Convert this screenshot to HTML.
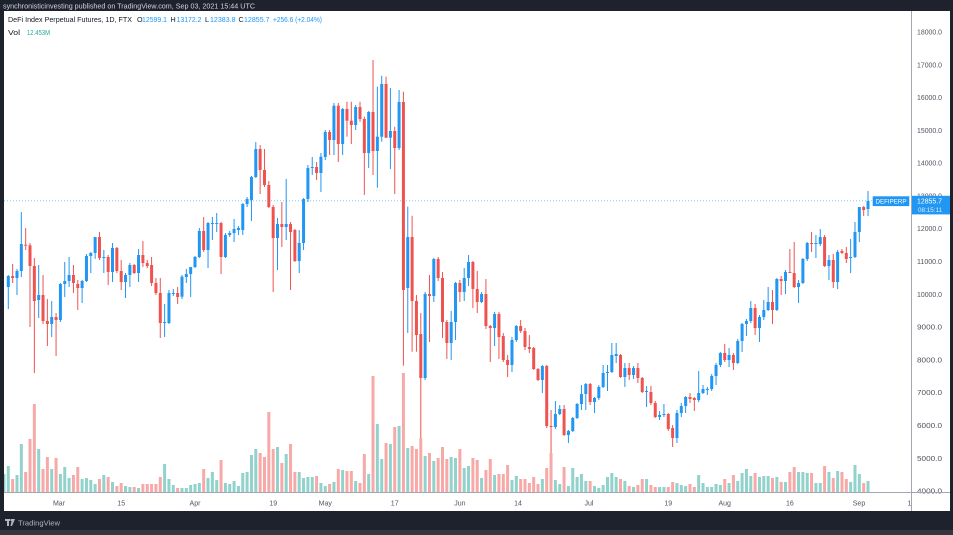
<!DOCTYPE html>
<html><head><meta charset="utf-8">
<style>
html,body{margin:0;padding:0;background:#1e222d;}
svg{display:block;}
text{font-family:"Liberation Sans",Arial,sans-serif;}
</style></head>
<body>
<svg id="s" width="953" height="535" viewBox="0 0 953 535" xmlns="http://www.w3.org/2000/svg">
<defs>
<clipPath id="cp"><rect x="4" y="11" width="907" height="481"/></clipPath>
<clipPath id="tc"><rect x="4" y="493" width="907" height="18"/></clipPath>
</defs>
<rect x="0" y="0" width="953" height="535" fill="#1e222d"/>
<rect x="0" y="530" width="953" height="5" fill="#34373f"/>
<rect x="4" y="11" width="946" height="500" fill="#ffffff"/>
<text x="3" y="8.6" font-size="7.2" fill="#d1d4dc" textLength="252" lengthAdjust="spacingAndGlyphs">synchronisticinvesting published on TradingView.com, Sep 03, 2021 15:44 UTC</text>
<g id="vol" clip-path="url(#cp)"></g>
<line x1="4" y1="200.7" x2="872" y2="200.7" stroke="#2196f3" stroke-opacity="0.55" stroke-width="1" stroke-dasharray="1,2"/>
<g id="cdl" clip-path="url(#cp)"></g>
<g font-size="7.2">
<text x="8" y="21.8" fill="#131722" textLength="124" lengthAdjust="spacingAndGlyphs">DeFi Index Perpetual Futures, 1D, FTX</text>
<text x="137" y="21.8" fill="#131722">O</text><text x="142" y="21.8" fill="#2196f3" textLength="25" lengthAdjust="spacingAndGlyphs">12599.1</text>
<text x="170.5" y="21.8" fill="#131722">H</text><text x="176.5" y="21.8" fill="#2196f3" textLength="25" lengthAdjust="spacingAndGlyphs">13172.2</text>
<text x="205" y="21.8" fill="#131722">L</text><text x="210" y="21.8" fill="#2196f3" textLength="25.5" lengthAdjust="spacingAndGlyphs">12383.8</text>
<text x="238.5" y="21.8" fill="#131722">C</text><text x="244" y="21.8" fill="#2196f3" textLength="25.5" lengthAdjust="spacingAndGlyphs">12855.7</text>
<text x="273" y="21.8" fill="#2196f3" textLength="49" lengthAdjust="spacingAndGlyphs">+256.6 (+2.04%)</text>
<text x="8" y="35.2" fill="#131722" textLength="12" lengthAdjust="spacingAndGlyphs">Vol</text>
<text x="27" y="35.2" fill="#26a69a" textLength="23" lengthAdjust="spacingAndGlyphs">12.453M</text>
</g>
<g id="pax" font-size="7" fill="#50535e"></g>
<line x1="911.5" y1="11" x2="911.5" y2="511" stroke="#a3a6af" stroke-width="1"/>
<line x1="4" y1="492.5" x2="950" y2="492.5" stroke="#a3a6af" stroke-width="1"/>
<g font-size="7" fill="#50535e" text-anchor="middle" clip-path="url(#tc)">
<text x="59" y="505.5">Mar</text>
<text x="121.2" y="505.5">15</text>
<text x="195" y="505.5">Apr</text>
<text x="273.2" y="505.5">19</text>
<text x="325.3" y="505.5">May</text>
<text x="394.7" y="505.5">17</text>
<text x="459.9" y="505.5">Jun</text>
<text x="518" y="505.5">14</text>
<text x="589" y="505.5">Jul</text>
<text x="668.3" y="505.5">19</text>
<text x="724.7" y="505.5">Aug</text>
<text x="789.9" y="505.5">16</text>
<text x="859" y="505.5">Sep</text>
<text x="911.5" y="505.5">13</text>
</g>
<rect x="872.7" y="196.3" width="36.6" height="9.8" fill="#2196f3"/>
<text x="891" y="203.6" font-size="6.5" fill="#ffffff" text-anchor="middle" textLength="31" lengthAdjust="spacingAndGlyphs">DEFIPERP</text>
<rect x="912" y="195.8" width="38" height="18.6" fill="#2196f3"/>
<text x="917" y="203.6" font-size="7" fill="#ffffff" textLength="25" lengthAdjust="spacingAndGlyphs">12855.7</text>
<text x="918" y="212" font-size="6.5" fill="#ffffff" fill-opacity="0.85" textLength="24" lengthAdjust="spacingAndGlyphs">08:15:11</text>
<g fill="#b2b5be">
<rect x="5" y="519" width="5" height="2"/><rect x="7" y="519" width="2" height="7"/>
<rect x="10.5" y="519" width="2" height="2"/><polygon points="12,519 15,519 12,526 10.5,526"/>
</g>
<text x="18" y="525.3" font-size="7.5" fill="#b2b5be" textLength="42" lengthAdjust="spacingAndGlyphs">TradingView</text>
</svg>
<script>
var D=[
[276,287,275,309,1,466],[276,278,264,283,0,479],[271,278,269,295,1,475],[244,271,212,277,1,444],[244.7,245.7,228,250,0,472],
[245.3,266,243,327,0,439],[266,301,258,373,0,404],[295,300,265,318,1,449],[295,321,275,324,0,469],[321,324,299,346,0,457],
[317,324,301,337,1,469],[317,320,313,356,0,458],[284,320,283,322,1,474],[281,284,262,297,1,467],[275,281,257,287,1,478],
[275,283,265,293,0,475],[284,288,280,310,0,467],[281,288,280,303,1,479],[256,281,254,282,1,478],[253,256,252,273,1,480],
[237,253,237,259,1,484],[237,258,232,260,0,479],[257,258,250,273,1,475],[257,272,255,285,0,477],[248,272,243,282,1,482],
[248,271,247,273,0,486],[271,282,260,290,0,483],[275,282,273,298,1,486],[265,275,263,287,1,487],[265,273,264,274,0,487],
[255,273,249,282,1,488],[255,263,241,267,0,484],[263,266,260,268,0,484],[265,283,257,286,0,484],[283,293,278,295,0,484],
[293,323,278,338,0,477],[322,323,304,337,1,464],[293,323,290,324,1,479],[293,294,289,296,1,485],[293,297,287,304,0,488],
[276.7,296.7,275,299,1,488],[274,277,269,283,1,488],[267,274,267,297,1,485],[257,267,256,268,1,484],[231,257,228,258,1,483],
[231,250,217,252,0,469],[223,250,222,268,1,478],[223,224,217,240,1,472],[223,224,213,232,1,480],[223,257,222,274,0,460],
[235,257,233,258,1,483],[233,235,231,237,1,484],[229,233,219,242,1,481],[228,230,226,235,1,486],[204,230,203,235,1,473],
[199,204,197,207,1,472],[177,200,176,221,1,455],[149,177,142,178,1,449],[149,170,145,194,0,453],[170,185,149,187,0,457],
[185,207,181,208,0,412],[207,238,205,292,0,449],[224,238,218,270,1,447],[224,227,202,247,0,463],[224,227,179,240,1,454],
[224,232,222,290,0,444],[230,261,229,262,0,472],[243,261,230,273,1,472],[199,243,198,250,1,478],[168,199,165,202,1,477],
[167,168,157,175,1,477],[167,173,162,180,0,476],[156.7,173,153,192,1,483],[132,157,130,160,1,486],[132,140,130,155,0,484],
[105.7,140,103,155,1,482],[105.7,144,103,162,0,469],[109,144,108,155,1,470],[109,120.7,101.7,136.7,0,471],[120.7,125,101.7,144,0,471],
[107,125,105,130,1,481],[107,119,101.7,121.7,0,483],[119,153,116.7,195,0,454],[112,153,111,168,1,474],[112,151,60,175,0,376],
[136.7,151,86.7,187.7,1,424],[84,136.7,75.7,141.7,1,459],[84,137.7,76.7,138,0,443],[131,137.7,88,169,1,444],[131,148,126.7,194,0,427],
[102,148,90,150,1,426],[102,290,91.7,365.7,0,373],[237,288,206.7,333,1,448],[237,301,215.7,351.7,0,446],[301,335,295,351.7,0,449],
[334,378,313,438,0,438],[294,378,292,380,1,456],[294,296,275,342,0,453],[259,296,258,302,1,461],[259,278,257,281,0,458],
[278,322,272,338,0,447],[322,343,320,359,0,459],[322,343,311,360,1,457],[283,322,282,340,1,458],[283,292,280,302,0,449],
[278,292,268,301,1,468],[262,278,255,286,1,466],[262,289,261,308,0,458],[289,302,271,313,0,460],[294,302,292,303,1,478],
[294,326,279,329,0,470],[326,328,325,362,0,459],[314,328,312,346,1,475],[314,337,312,359,0,474],[336,360,333,362,0,474],
[360,365,355,377,0,465],[340,365,337,372,1,480],[326,340,325,342,1,476],[326,331,320,333,0,479],[331,347,328,350,0,479],
[347,349,335,353,0,483],[348,369,347,370,0,477],[369,380,368,381,0,484],[366,380,365,393,1,479],[366,426,365,428,0,468],
[426,427,410,453,0,453],[414,427,401,429,1,480],[409,414,405,415,1,484],[409,435,405,436,0,467],[431,435,430,443,1,486],
[418,431,417,432,1,468],[404,418,403,419,1,477],[394,404,385,410,1,474],[384,394,383,410,1,481],[384,402,383,405,0,481],
[398,402,397,413,1,486],[387,398,385,400,1,488],[373,387,365,388,1,485],[372,373,365,391,1,477],[355,372,343,373,1,473],
[354,356,343,363,1,477],[355,377,354,378,0,479],[368,377,363,387,1,481],[368,375,363,380,0,486],[368,375,366,379,1,487],
[368,378,363,383,0,485],[378,392,377,393,0,479],[391,392,386,407,1,479],[392,403,386,405,0,485],[403,417,401,418,0,487],
[415,417,411,420,1,487],[414,415,404,417,1,487],[414,429,413,431,0,487],[428,438,425,447,0,482],[413,438,410,443,1,483],
[406,413,403,417,1,485],[397,406,396,413,1,486],[397,399,393,403,0,484],[398,400,397,411,0,487],[393,400,371,402,1,475],
[389,393,385,394,1,483],[389,390,387,395,1,487],[376,389,374,391,1,487],[365,376,363,385,1,484],[353,365,352,367,1,485],
[353,360,344,362,0,479],[355,360,348,367,1,483],[355,363,353,370,0,475],[341,363,339,364,1,481],[324,341,323,352,1,473],
[321,324,319,336,1,469],[308,321,301,323,1,476],[308,328,304,335,0,473],[317,328,315,342,1,477],[310,317,300,320,1,476],
[302,310,287,311,1,476],[302,310,290,324,0,478],[279,310,278,311,1,477],[279,281,276,295,0,482],[272,281,270,294,1,482],
[272,273,249,273,0,472],[273,287,242,288,0,467],[283,287,280,303,1,472],[259,283,258,284,1,472],[243,259,242,261,1,473],
[243,244,232,252,0,473],[243,244,235,258,1,483],[237,244,229,246,1,483],[237,266,235,267,0,466],[260,266,255,280,1,472],
[260,282,254,288,0,478],[252,282,250,289,1,471],[251,253,249,254,0,472],[253,259,247,263,0,479],[257,258,239,273,1,482],
[232,257,222,258,1,465],[207,232,207,242,1,474],[207,210,206,216,0,483],[201,209,191,216,1,481]
];
var NS="http://www.w3.org/2000/svg";
function R(g,x,y,w,h,f){var r=document.createElementNS(NS,"rect");r.setAttribute("x",x);r.setAttribute("y",y);r.setAttribute("width",w);r.setAttribute("height",h);r.setAttribute("fill",f);g.appendChild(r);}
var gv=document.getElementById("vol"),gc=document.getElementById("cdl");
R(gv,2.5,474,3,492-474,"#92d2cc");
for(var k=0;k<D.length;k++){
 var d=D[k],x=8.3+4.342*k,up=d[4];
 var col=up?"#2196f3":"#ef5350",vc=up?"#92d2cc":"#f7a9a7";
 R(gv,x-1.5,d[5],3,492-d[5],vc);
 R(gc,x-0.5,d[2],1,Math.max(1,d[3]-d[2]),col);
 R(gc,x-1.5,d[0],3,Math.max(1,d[1]-d[0]),col);
}
var pa=document.getElementById("pax");
for(var p=4000;p<=18000;p+=1000){
 var y=32+(18000-p)*0.03279;
 var t=document.createElementNS(NS,"text");
 t.setAttribute("x","917");t.setAttribute("y",(y+2.5).toFixed(1));
 t.setAttribute("textLength","25");t.setAttribute("lengthAdjust","spacingAndGlyphs");
 t.textContent=p+".0";pa.appendChild(t);
}
</script>
</body></html>
